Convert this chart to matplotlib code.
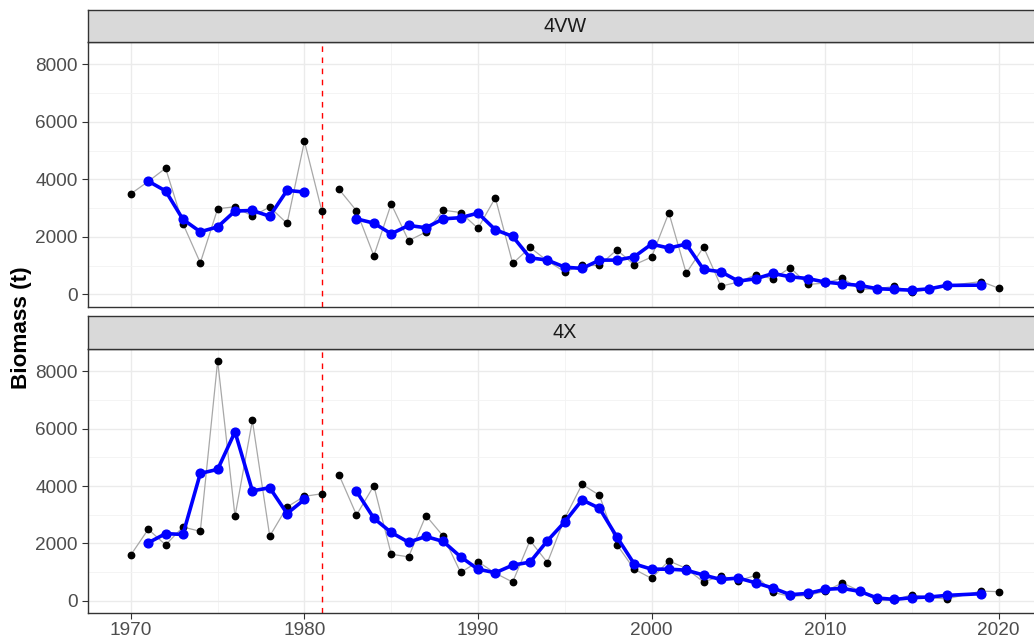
import matplotlib
matplotlib.use("Agg")
import matplotlib.pyplot as plt
from matplotlib.ticker import MultipleLocator

plt.rcParams["font.family"] = ["Liberation Sans", "DejaVu Sans"]

# years, split at the 1981 break
years_a = list(range(1970, 1982))
years_b = list(range(1982, 2018)) + [2019, 2020]
ma_years_a = list(range(1971, 1981))
ma_years_b = list(range(1983, 2018)) + [2019]

# 4VW
vw_a = [3500, 3930, 4390, 2460, 1100, 2980, 3050, 2720, 3040, 2470, 5320, 2910]
vw_b = [3650, 2910, 1345, 3150, 1870, 2170, 2930, 2850, 2300, 3360,
        1080, 1635, 1170, 785, 1010, 1010, 1555, 1030, 1300, 2840,
        740, 1650, 290, 430, 685, 545, 930, 350, 395, 570,
        175, 200, 280, 80, 180, 300, 450, 220]
vw_ma_a = [3940, 3600, 2610, 2180, 2350, 2900, 2920, 2720, 3620, 3560]
vw_ma_b = [2630, 2480, 2110, 2400, 2320, 2630, 2670, 2830, 2250, 2020,
           1275, 1195, 950, 905, 1195, 1195, 1310, 1750, 1615, 1750,
           870, 790, 465, 545, 730, 615, 555, 430, 370, 315,
           200, 175, 150, 195, 315, 325]

# 4X
x_a = [1600, 2490, 1950, 2570, 2420, 8360, 2945, 6285, 2250, 3270, 3640, 3730]
x_b = [4380, 2990, 4010, 1620, 1530, 2970, 2250, 985, 1360, 960,
       650, 2100, 1330, 2875, 4060, 3675, 1960, 1100, 780, 1390,
       1125, 650, 870, 700, 880, 290, 150, 185, 325, 625,
       335, 10, 20, 210, 115, 60, 335, 315]
x_ma_a = [2020, 2340, 2310, 4440, 4580, 5890, 3830, 3940, 3040, 3530]
x_ma_b = [3815, 2875, 2380, 2040, 2240, 2065, 1530, 1100, 975, 1240,
          1345, 2090, 2750, 3515, 3225, 2225, 1285, 1100, 1100, 1065,
          895, 740, 790, 625, 440, 210, 255, 395, 430, 325,
          95, 45, 105, 130, 185, 245]

panels = [
    ("4VW", vw_a, vw_b, vw_ma_a, vw_ma_b),
    ("4X", x_a, x_b, x_ma_a, x_ma_b),
]

W, H = 1034, 644
FRAME = "#333333"


def draw_panel(ax, raw_a, raw_b, ma_a, ma_b, show_x):
    ax.axvline(1981, color="red", lw=1.0, ls=(0, (4, 4)), zorder=2)
    for yrs, vals in [(years_a, raw_a), (years_b, raw_b)]:
        ax.plot(yrs, vals, color="#A8A8A8", lw=0.9, zorder=3)
        ax.plot(yrs, vals, "o", color="black", ms=4.6, zorder=4)
    for yrs, vals in [(ma_years_a, ma_a), (ma_years_b, ma_b)]:
        ax.plot(yrs, vals, "-o", color="#0000FF", lw=2.6, ms=6.3, zorder=5)

    ax.set_xlim(1967.5, 2022.5)
    ax.set_ylim(-418, 8778)
    ax.xaxis.set_major_locator(MultipleLocator(10))
    ax.xaxis.set_minor_locator(MultipleLocator(5))
    ax.yaxis.set_major_locator(MultipleLocator(2000))
    ax.yaxis.set_minor_locator(MultipleLocator(1000))
    ax.grid(which="major", color="#EBEBEB", lw=1.0)
    ax.grid(which="minor", color="#F3F3F3", lw=0.6)
    ax.set_axisbelow(True)
    ax.tick_params(which="major", length=4, width=0.8, color=FRAME,
                   labelsize=13.7, labelcolor="#4D4D4D", pad=3)
    ax.tick_params(which="minor", length=0)
    if not show_x:
        ax.tick_params(axis="x", which="major", labelbottom=False, length=0)
    for s in ax.spines.values():
        s.set_color(FRAME)
        s.set_linewidth(1.0)


def main():
    fig = plt.figure(figsize=(W / 100, H / 100), dpi=100)
    left = 87.5 / W
    width = 954.5 / W
    # (strip top, panel top, panel bottom) in pixels
    boxes = [(10, 42, 306.5), (316, 349, 612.7)]

    for i, (name, raw_a, raw_b, ma_a, ma_b) in enumerate(panels):
        st, pt, pb = boxes[i]
        ax = fig.add_axes([left, (H - pb) / H, width, (pb - pt) / H])
        draw_panel(ax, raw_a, raw_b, ma_a, ma_b, show_x=(i == 1))

        sax = fig.add_axes([left, (H - pt) / H, width, (pt - st) / H])
        sax.set_facecolor("#D9D9D9")
        sax.set_xticks([])
        sax.set_yticks([])
        for s in sax.spines.values():
            s.set_color(FRAME)
            s.set_linewidth(1.0)
        sax.text(0.5, 0.5, name, transform=sax.transAxes, ha="center",
                 va="center", fontsize=14.3, color="#1A1A1A")

    fig.text(21.5 / W, 1 - 327.5 / H, "Biomass (t)", rotation=90,
             ha="center", va="center", fontsize=16.2, fontweight="bold",
             color="black")

    fig.savefig("out.png", dpi=100)


if __name__ == "__main__":
    main()
